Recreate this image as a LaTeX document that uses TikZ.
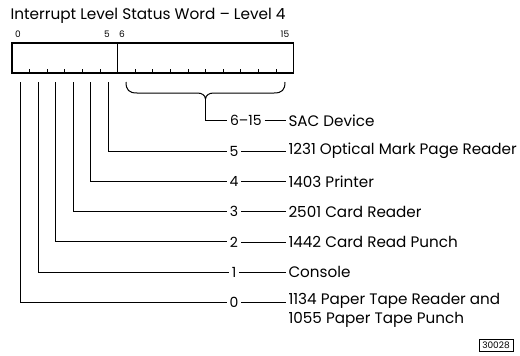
\documentclass[tikz,border=0pt]{standalone}
\usepackage{fontspec}
\setmainfont{Poppins}
\begin{document}
\begin{tikzpicture}[x=1pt,y=-1pt,line width=1pt,
  num/.style={inner sep=2.5pt, font=\fontsize{14}{16}\selectfont},
  dev/.style={anchor=west, inner sep=2.5pt, font=\fontsize{15.2}{18.5}\selectfont, align=left},
  bitlbl/.style={inner sep=0pt, font=\fontsize{9}{10}\selectfont},
  field/.style={draw, line width=1.2pt, minimum height=30pt, inner sep=0pt, outer sep=0pt, anchor=north west},
  dashline/.style={line width=0.8pt}]
\useasboundingbox (0,0) rectangle (520,356);
% title
\node[anchor=west, inner sep=0pt, font=\fontsize{15.3}{17}\selectfont] (title) at (10,15.5) {Interrupt Level Status Word -- Level 4};
% bit numbers
\node[bitlbl] (l0) at (18,34) {0};
\node[bitlbl] (l5) at (107,34) {5};
\node[bitlbl] (l6) at (122,34) {6};
\node[bitlbl] (l15) at (285,34) {15};
% word fields
\node[field, minimum width=105.6pt] (fa) at (12,43) {};
\node[field, minimum width=176pt] (fb) at (117.6,43) {};
% ticks
\foreach \k in {1,...,5,7,8,...,15}
  \draw[line width=0.8pt] (12+17.6*\k,73) -- ++(0,-4);
% bit line start points
\foreach \k in {0,...,5}
  \coordinate (b\k) at (20.5+17.5*\k,82);
% brace
\draw[line width=1pt] (126,82) .. controls (126,90) and (129,93) .. (137,93) -- (197,93)
  .. controls (202,93) and (205,95) .. (205.5,99)
  .. controls (206,95) and (209,93) .. (214,93) -- (274,93)
  .. controls (282,93) and (285,90) .. (285,82);
\coordinate (tip) at (205.5,99);
% labels
\node[num, anchor=west] (n615) at (227,120.5) {6--15};
\node[num] (n5) at (234,151) {5};
\node[num] (n4) at (234,181.3) {4};
\node[num] (n3) at (234,211.6) {3};
\node[num] (n2) at (234,241.9) {2};
\node[num] (n1) at (234,272.2) {1};
\node[num] (n0) at (234,302.5) {0};
% devices
\node[dev] (d615) at (285.5,120.5) {SAC Device};
\node[dev] (d5) at (285.5,151) {1231 Optical Mark Page Reader};
\node[dev] (d4) at (285.5,181.3) {1403 Printer};
\node[dev] (d3) at (285.5,211.6) {2501 Card Reader};
\node[dev] (d2) at (285.5,241.9) {1442 Card Read Punch};
\node[dev] (d1) at (285.5,272.2) {Console};
\node[dev, anchor=north west] (d0) at (285.5,290.7) {1134 Paper Tape Reader and\\1055 Paper Tape Punch};
% connectors
\draw (tip) |- (n615.west);
\foreach \k in {0,...,5}
  \draw (b\k) |- (n\k.west);
\draw[dashline] (n615) -- (d615);
\foreach \k in {1,...,5}
  \draw[dashline] (n\k) -- (d\k);
\draw[dashline] (n0.east) -- (n0.east -| d0.west);
% figure number
\node[draw, line width=0.8pt, inner sep=1.5pt, minimum width=34pt, minimum height=12pt, font=\fontsize{9}{10}\selectfont] (fig) at (496,345.5) {30028};
\end{tikzpicture}
\end{document}
